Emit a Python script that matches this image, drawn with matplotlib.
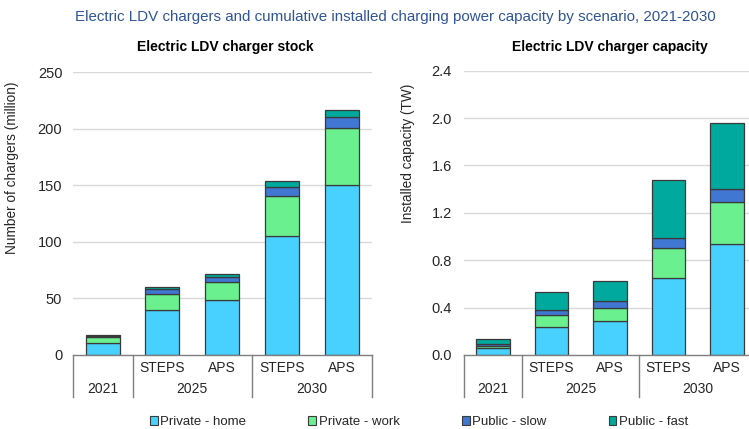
import matplotlib
matplotlib.use('Agg')
import matplotlib.pyplot as plt
from matplotlib.patches import Patch
import matplotlib.transforms as mtransforms

plt.rcParams['font.family'] = ['Liberation Sans', 'DejaVu Sans']

# categories
scen_labels = ['', 'STEPS', 'APS', 'STEPS', 'APS']
year_labels = ['2021', '2025', '2030']
year_pos = [0, 1.5, 3.5]
sep_pos = [-0.5, 0.5, 2.5, 4.5]

series = ['Private - home', 'Private - work', 'Public - slow', 'Public - fast']
colors = ['#48D1FF', '#6AF08F', '#3F77D2', '#00A99D']

# charger stock (million)
stock_home = [10.5, 40.0, 48.5, 105.5, 150.0]
stock_work = [5.0, 13.5, 16.0, 35.0, 50.6]
stock_slow = [1.3, 4.8, 4.7, 8.2, 9.8]
stock_fast = [0.6, 2.1, 2.7, 5.1, 5.8]

# installed capacity (TW)
cap_home = [0.057, 0.235, 0.285, 0.65, 0.935]
cap_work = [0.023, 0.10, 0.115, 0.25, 0.355]
cap_slow = [0.015, 0.045, 0.053, 0.09, 0.11]
cap_fast = [0.037, 0.15, 0.17, 0.485, 0.56]

W, H = 749, 429
fig = plt.figure(figsize=(W / 100, H / 100), dpi=100)

ax1 = fig.add_axes([72.7 / W, 74 / H, 299 / W, 283 / H])
ax2 = fig.add_axes([463.7 / W, 74 / H, 292.5 / W, 284.3 / H])

grid_c = '#D9D9D9'
axis_c = '#7F7F7F'
txt_c = '#262626'


def draw(ax, data, ymax, yticks, fmt, ylabel, lab_xy, pad):
    x = list(range(len(scen_labels)))
    bottom = [0] * len(x)
    for vals, c, name in zip(data, colors, series):
        ax.bar(x, vals, width=0.57, bottom=bottom, color=c,
               edgecolor='#3a3a3a', linewidth=0.9, label=name, zorder=3)
        bottom = [b + v for b, v in zip(bottom, vals)]
    ax.set_xlim(-0.5, 4.5)
    ax.set_ylim(0, ymax)
    ax.set_yticks(yticks)
    ax.set_yticklabels([fmt.format(t) for t in yticks])
    ax.tick_params(axis='y', length=0, pad=pad, labelsize=10.5, labelcolor=txt_c)
    ax.set_xticks([])
    for s in ['top', 'right', 'left']:
        ax.spines[s].set_visible(False)
    ax.spines['bottom'].set_color(axis_c)
    ax.spines['bottom'].set_linewidth(1.0)
    ax.spines['bottom'].set_zorder(4)
    for t in yticks[1:]:
        ax.axhline(t, color=grid_c, linewidth=1.0, zorder=0)
    ax.set_ylabel(ylabel, fontsize=9.8, color=txt_c)
    ax.yaxis.set_label_coords(*lab_xy)

    # category axis below
    hpx = ax.get_position().height * H
    trans = mtransforms.blended_transform_factory(ax.transData, ax.transAxes)
    for sx in sep_pos:
        ax.plot([sx, sx], [0, -41.7 / hpx], transform=trans, color=axis_c,
                linewidth=1.0, clip_on=False)
    for i, lab in enumerate(scen_labels):
        if lab:
            ax.text(i, -12.7 / hpx, lab, transform=trans, ha='center',
                    va='center', fontsize=10, color=txt_c)
    for yp, lab in zip(year_pos, year_labels):
        ax.text(yp, -34 / hpx, lab, transform=trans, ha='center',
                va='center', fontsize=10, color=txt_c)


draw(ax1, [stock_home, stock_work, stock_slow, stock_fast], 250,
     [0, 50, 100, 150, 200, 250], '{:.0f}', 'Number of chargers (million)',
     (-0.181, 0.66), 7.5)
draw(ax2, [cap_home, cap_work, cap_slow, cap_fast], 2.4,
     [0, 0.4, 0.8, 1.2, 1.6, 2.0, 2.4], '{:.1f}', 'Installed capacity (TW)',
     (-0.167, 0.71), 8.5)

fig.text(395.5 / W, 1 - 17.3 / H,
         'Electric LDV chargers and cumulative installed charging power capacity by scenario, 2021-2030',
         ha='center', va='center', fontsize=10.9, color='#2F5597')
fig.text(225 / W, 1 - 46.7 / H, 'Electric LDV charger stock', ha='center',
         va='center', fontsize=10, fontweight='bold', color='black')
fig.text(610 / W, 1 - 46.7 / H, 'Electric LDV charger capacity', ha='center',
         va='center', fontsize=10, fontweight='bold', color='black')

handles = [Patch(facecolor=c, edgecolor='#3a3a3a', linewidth=0.8) for c in colors]
fig.legend(handles, series, loc='center', bbox_to_anchor=(419 / W, 1 - 422.3 / H),
           ncol=4, frameon=False, fontsize=9.5, handlelength=0.6,
           handleheight=0.6, handletextpad=0.2, columnspacing=4.7,
           labelcolor=txt_c)

fig.savefig('out.png', dpi=100)
